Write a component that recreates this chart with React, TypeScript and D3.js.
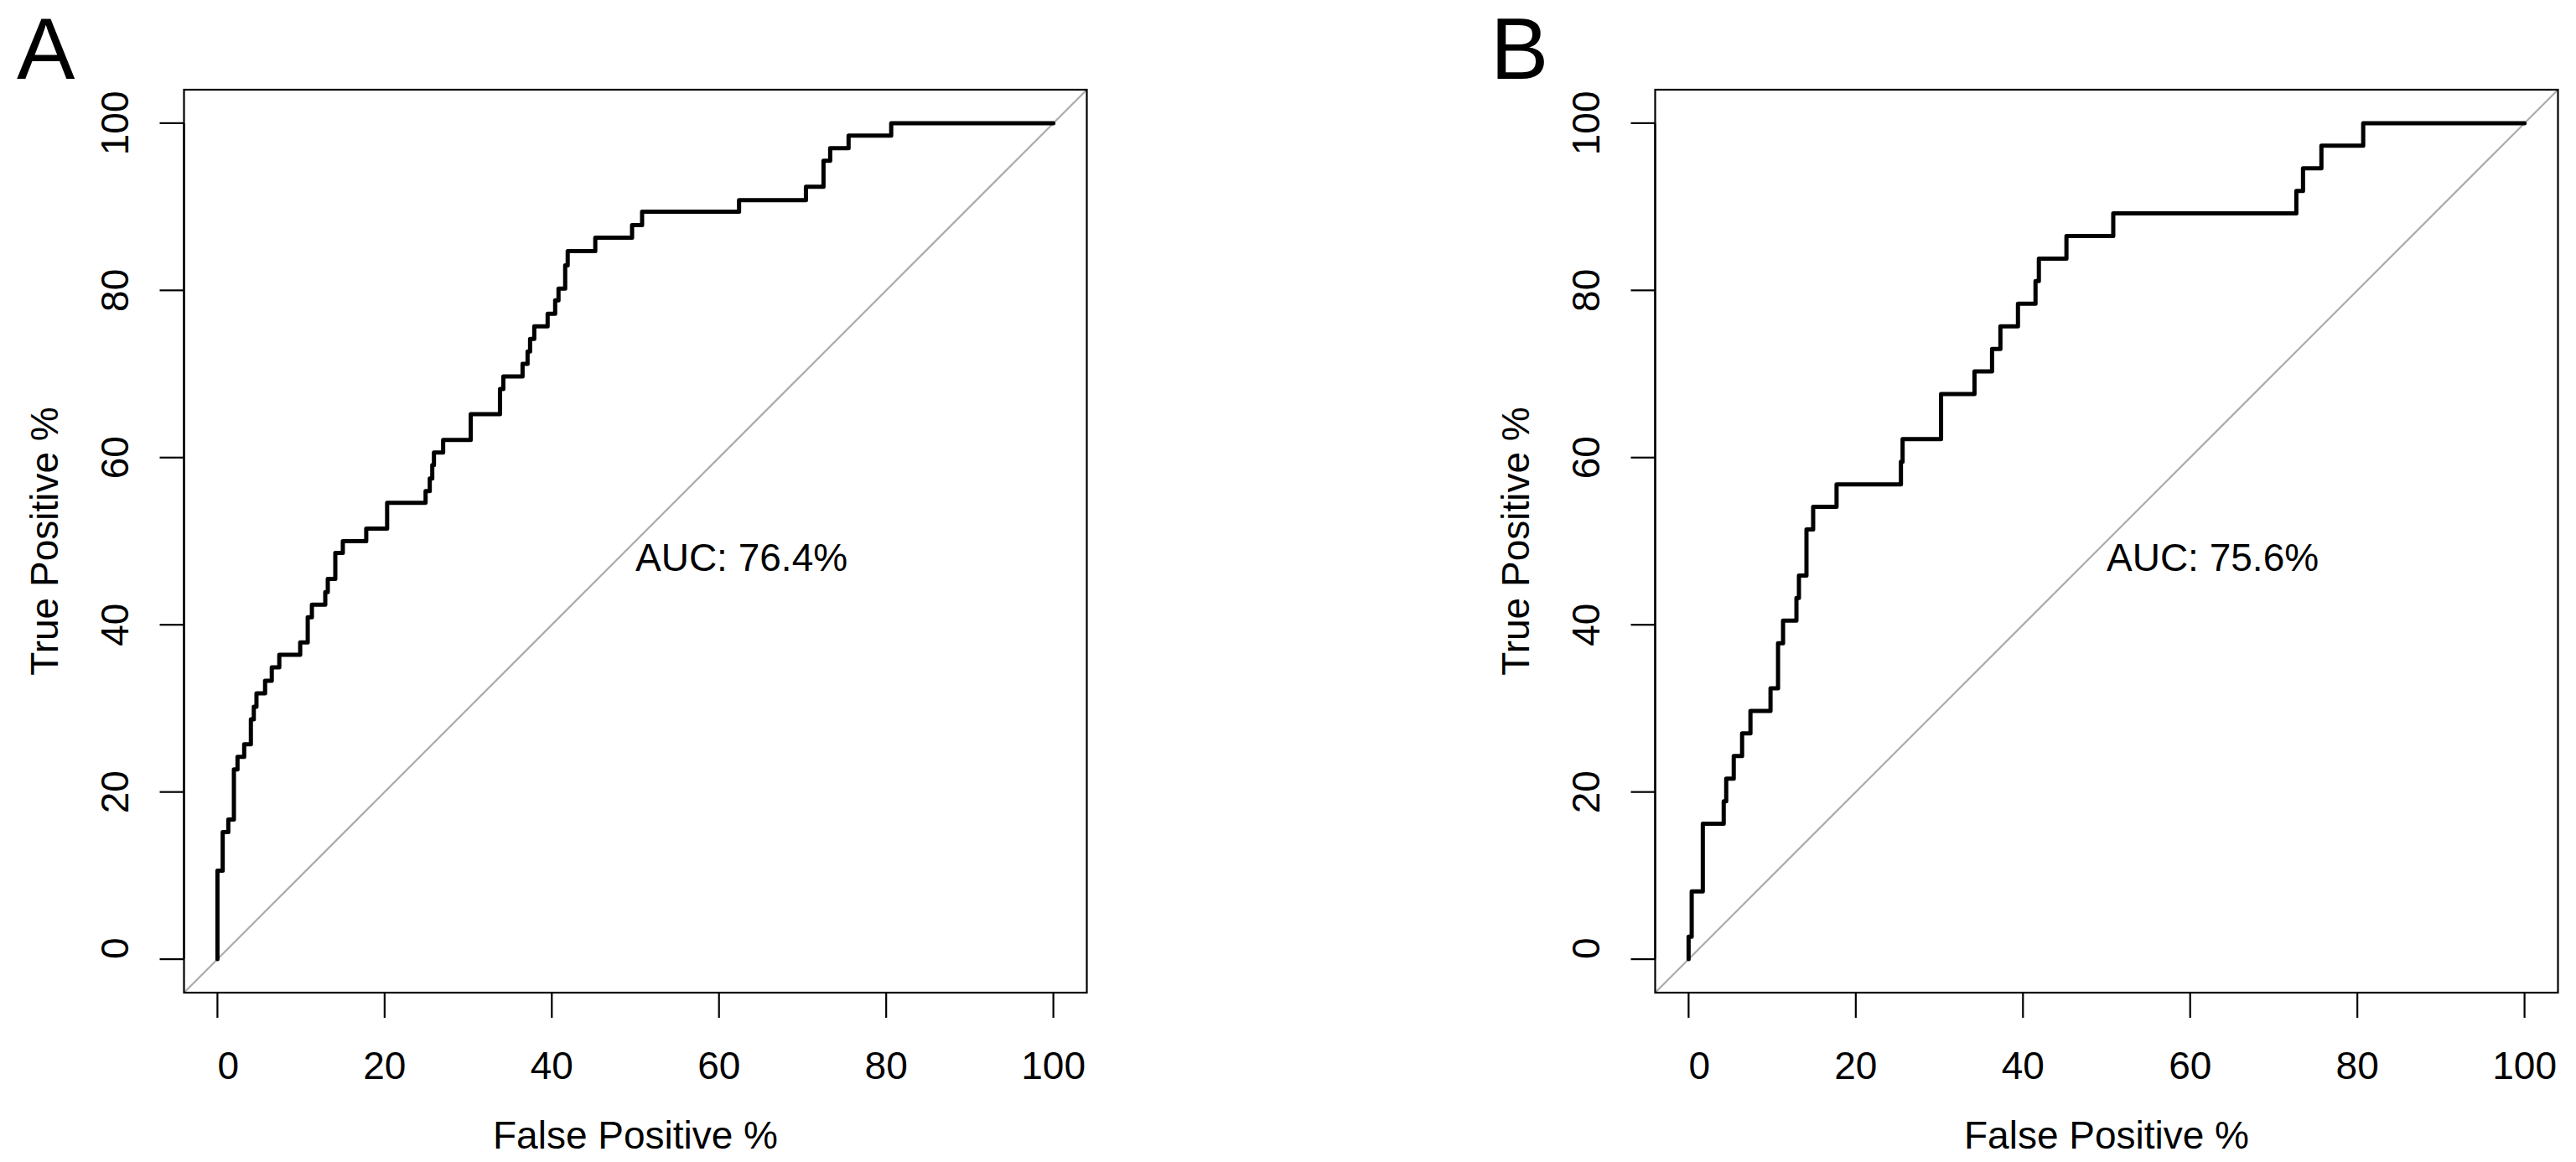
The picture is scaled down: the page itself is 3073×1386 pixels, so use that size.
import React from 'react';
import * as d3 from 'd3';

// tick values shared by both axes
const xTicks = [0, 20, 40, 60, 80, 100];
const yTicks = [0, 20, 40, 60, 80, 100];

// panel A: points where the ROC curve rises (false positive %, true positive % after the rise)
const fpA = [0, 0, 0.63, 1.3, 1.97, 2.4, 3.2, 4.0, 4.35, 4.67, 5.7, 6.5, 7.4, 9.9, 10.8, 11.3, 12.9, 13.2, 14.1, 15.0,
  17.8, 20.3, 24.9, 25.4, 25.7, 25.9, 27.0, 30.3, 33.8, 34.2, 36.5, 37.1, 37.4, 37.9, 39.5, 40.4, 40.8, 41.6, 41.9, 45.2,
  49.6, 50.8, 62.4, 70.4, 72.5, 73.3, 75.5, 80.6, 100];
const tpA = [0, 10.6, 15.2, 16.7, 22.7, 24.2, 25.7, 28.7, 30.2, 31.8, 33.3, 34.9, 36.4, 37.9, 40.9, 42.4, 43.9, 45.5, 48.6, 50.0,
  51.5, 54.6, 56.0, 57.5, 59.1, 60.6, 62.1, 65.2, 68.2, 69.7, 71.2, 72.7, 74.2, 75.7, 77.2, 78.8, 80.2, 83.0, 84.7, 86.3,
  87.8, 89.4, 90.8, 92.4, 95.5, 97.0, 98.5, 100, 100];

// panel B
const fpB = [0, 0, 0.37, 1.7, 4.2, 4.5, 5.4, 6.4, 7.4, 9.8, 10.7, 11.3, 12.9, 13.2, 14.1, 14.9, 17.7, 25.4, 25.6, 30.2,
  34.2, 36.3, 37.3, 39.4, 41.5, 41.9, 45.2, 50.8, 72.7, 73.5, 75.7, 80.7, 100];
const tpB = [0, 2.7, 8.1, 16.2, 18.9, 21.6, 24.3, 27.0, 29.7, 32.4, 37.8, 40.5, 43.2, 45.9, 51.4, 54.1, 56.8, 59.5, 62.2, 67.6,
  70.3, 73.0, 75.7, 78.4, 81.1, 83.8, 86.5, 89.2, 91.9, 94.6, 97.3, 100, 100];

const panelLetters = ['A', 'B'];
const aucLabels = ['AUC: 76.4%', 'AUC: 75.6%'];
const xTitle = 'False Positive %';
const yTitle = 'True Positive %';

const W = 3073;
const H = 1386;
const boxTop = 107;
const boxSize = 1077;
const font = '"Liberation Sans", Arial, Helvetica, sans-serif';

interface PanelProps {
  left: number;
  letterX: number;
  fp: number[];
  tp: number[];
  letter: string;
  auc: string;
}

const Panel: React.FC<PanelProps> = ({ left, letterX, fp, tp, letter, auc }) => {
  // R style: 4% padding on each side of 0..100
  const x = d3.scaleLinear().domain([-4, 104]).range([left, left + boxSize]);
  const y = d3.scaleLinear().domain([-4, 104]).range([boxTop + boxSize, boxTop]);
  const bottom = boxTop + boxSize;

  const pts: [number, number][] = fp.map((f, i) => [f, tp[i]]);
  const line = d3.line<[number, number]>()
    .x(d => x(d[0]))
    .y(d => y(d[1]))
    .curve(d3.curveStepAfter);

  return (
    <g fontFamily={font}>
      <text x={letterX} y={94} fontSize={104} fill="#000">{letter}</text>

      {/* identity line */}
      <line x1={x(-4)} y1={y(-4)} x2={x(104)} y2={y(104)} stroke="#a9a9a9" strokeWidth={2.2} />

      <path d={line(pts) || ''} fill="none" stroke="#000" strokeWidth={5}
        strokeLinejoin="round" strokeLinecap="round" />

      <rect x={left} y={boxTop} width={boxSize} height={boxSize} fill="none" stroke="#000" strokeWidth={2.2} />

      {/* x axis */}
      <line x1={x(0)} x2={x(100)} y1={bottom} y2={bottom} stroke="#000" strokeWidth={2.2} />
      {xTicks.map(t => (
        <g key={'x' + t}>
          <line x1={x(t)} x2={x(t)} y1={bottom} y2={bottom + 30} stroke="#000" strokeWidth={2.2} />
          <text x={x(t) + (t === 0 ? 13 : 0)} y={bottom + 103} fontSize={46} textAnchor="middle">{t}</text>
        </g>
      ))}

      {/* y axis */}
      <line x1={left} x2={left} y1={y(0)} y2={y(100)} stroke="#000" strokeWidth={2.2} />
      {yTicks.map(t => (
        <g key={'y' + t}>
          <line x1={left - 29} x2={left} y1={y(t)} y2={y(t)} stroke="#000" strokeWidth={2.2} />
          <text transform={`translate(${left - 66.5},${y(t) - (t === 0 ? 13 : 0)}) rotate(-90)`}
            fontSize={46} textAnchor="middle">{t}</text>
        </g>
      ))}

      <text x={x(50)} y={y(50) + 35} fontSize={46}>{auc}</text>

      <text x={x(50)} y={bottom + 186} fontSize={46} textAnchor="middle">{xTitle}</text>
      <text transform={`translate(${left - 151},${y(50)}) rotate(-90)`} fontSize={46} textAnchor="middle">{yTitle}</text>
    </g>
  );
};

export default function App() {
  return (
    <>
      <style>{`body{margin:0}`}</style>
      <svg width={W} height={H} style={{ display: 'block', background: '#fff' }}>
        <rect width={W} height={H} fill="#fff" />
        <Panel left={219.5} letterX={20} fp={fpA} tp={tpA} letter={panelLetters[0]} auc={aucLabels[0]} />
        <Panel left={1974.5} letterX={1778} fp={fpB} tp={tpB} letter={panelLetters[1]} auc={aucLabels[1]} />
      </svg>
    </>
  );
}
